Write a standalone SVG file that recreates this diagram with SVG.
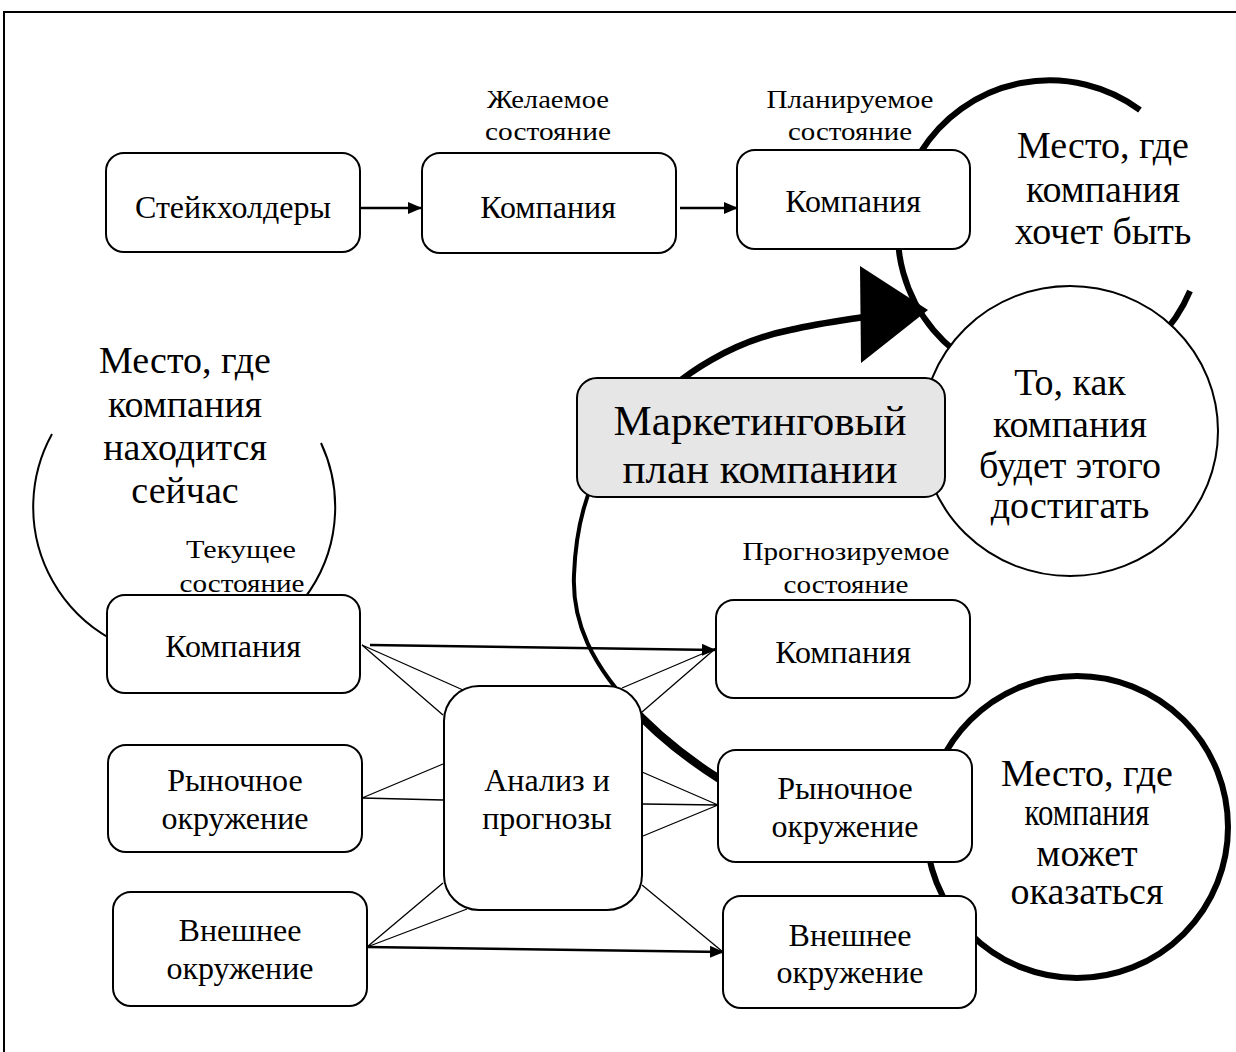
<svg xmlns="http://www.w3.org/2000/svg" width="1236" height="1052" viewBox="0 0 1236 1052">
<defs>
<style>
text{font-family:"Liberation Serif","Times New Roman",serif;fill:#000;text-anchor:middle}
.box{fill:#fff;stroke:#000;stroke-width:2}
.lbl{font-size:32px}
.sm{font-size:26px}
.big{font-size:38px}
.thin{stroke:#000;stroke-width:1.3;fill:none}
.arr{stroke:#000;stroke-width:2.5;fill:none}
</style>
<marker id="ah" markerWidth="14" markerHeight="12" refX="13" refY="6" orient="auto" markerUnits="userSpaceOnUse">
<path d="M0,0 L14,6 L0,12 Z" fill="#000"/>
</marker>
</defs>
<rect width="1236" height="1052" fill="#fff"/>
<rect x="4" y="12" width="1240" height="1050" fill="none" stroke="#000" stroke-width="2"/>

<g id="circle-want">
<path d="M1190 291 A152 152 0 1 1 1140 110" fill="#fff" stroke="#000" stroke-width="6"/>
<text class="big" x="1103" y="158">Место, где</text>
<text class="big" x="1103" y="202">компания</text>
<text class="big" x="1103" y="244">хочет быть</text>
</g>

<g id="circle-now">
<path d="M321 443 A151 151 0 1 1 52 434" fill="none" stroke="#000" stroke-width="2"/>
<text class="big" x="185" y="373">Место, где</text>
<text class="big" x="185" y="417">компания</text>
<text class="big" x="185" y="460">находится</text>
<text class="big" x="185" y="503">сейчас</text>
<text class="sm" x="241" y="558" textLength="110" lengthAdjust="spacingAndGlyphs">Текущее</text>
<text class="sm" x="242" y="592" textLength="125" lengthAdjust="spacingAndGlyphs">состояние</text>
</g>

<g id="circle-may">
<circle cx="1077" cy="827" r="151" fill="#fff" stroke="#000" stroke-width="6"/>
<text class="big" x="1087" y="786">Место, где</text>
<text class="big" x="1087" y="825" textLength="125" lengthAdjust="spacingAndGlyphs">компания</text>
<text class="big" x="1087" y="866">может</text>
<text class="big" x="1087" y="904">оказаться</text>
</g>

<g id="connectors">
<path d="M625 700 Q665 745 721 780" fill="none" stroke="#000" stroke-width="8"/>
<path d="M640 715 C590 665 572 620 574 575 C576 520 590 480 610 450" fill="none" stroke="#000" stroke-width="4"/>
<path d="M640 420 C680 370 740 340 790 330 C820 323 845 320 870 316" fill="none" stroke="#000" stroke-width="6.5"/>
<polygon points="860,266 861,363 928,310" fill="#000"/>

<line class="arr" x1="360" y1="208" x2="421" y2="208" marker-end="url(#ah)"/>
<line class="arr" x1="680" y1="208" x2="737" y2="208" marker-end="url(#ah)"/>
<line class="arr" x1="370" y1="645" x2="715" y2="650" marker-end="url(#ah)"/>
<line class="arr" x1="367" y1="947" x2="723" y2="952" marker-end="url(#ah)"/>

<path class="thin" d="M362 645 L443 715 M362 645 L463 690"/>
<path class="thin" d="M362 798 L443 764 M362 798 L443 800"/>
<path class="thin" d="M367 947 L443 883 M367 947 L467 909"/>
<path class="thin" d="M716 648 L622 688 M716 648 L642 712"/>
<path class="thin" d="M718 805 L642 772 M718 805 L643 804 M718 805 L643 836"/>
<path class="thin" d="M723 952 L642 885"/>
</g>

<g id="circle-how">
<ellipse cx="1070" cy="431" rx="148" ry="145" fill="#fff" stroke="#000" stroke-width="2"/>
<text class="big" x="1070" y="395">То, как</text>
<text class="big" x="1070" y="437">компания</text>
<text class="big" x="1070" y="478">будет этого</text>
<text class="big" x="1070" y="518">достигать</text>
</g>

<g id="node-stakeholders">
<rect class="box" x="106" y="153" width="254" height="99" rx="18"/>
<text class="lbl" x="233" y="218">Стейкхолдеры</text>
</g>
<g id="node-desired">
<text class="sm" x="548" y="108" textLength="122" lengthAdjust="spacingAndGlyphs">Желаемое</text>
<text class="sm" x="548" y="140" textLength="126" lengthAdjust="spacingAndGlyphs">состояние</text>
<rect class="box" x="422" y="153" width="254" height="100" rx="18"/>
<text class="lbl" x="548" y="218">Компания</text>
</g>
<g id="node-planned">
<text class="sm" x="850" y="108" textLength="167" lengthAdjust="spacingAndGlyphs">Планируемое</text>
<text class="sm" x="850" y="140" textLength="124" lengthAdjust="spacingAndGlyphs">состояние</text>
<rect class="box" x="737" y="150" width="233" height="99" rx="18"/>
<text class="lbl" x="853" y="212">Компания</text>
</g>

<g id="node-plan">
<rect x="577" y="378" width="368" height="119" rx="20" fill="#e6e6e6" stroke="#000" stroke-width="2"/>
<text x="760" y="435" style="font-size:43px">Маркетинговый</text>
<text x="760" y="483" style="font-size:43px">план компании</text>
</g>

<g id="node-company-now">
<rect class="box" x="107" y="595" width="253" height="98" rx="18"/>
<text class="lbl" x="233" y="657">Компания</text>
</g>
<g id="node-market-now">
<rect class="box" x="108" y="745" width="254" height="107" rx="18"/>
<text class="lbl" x="235" y="791">Рыночное</text>
<text class="lbl" x="235" y="829">окружение</text>
</g>
<g id="node-external-now">
<rect class="box" x="113" y="892" width="254" height="114" rx="18"/>
<text class="lbl" x="240" y="941">Внешнее</text>
<text class="lbl" x="240" y="979">окружение</text>
</g>

<g id="node-analysis">
<rect class="box" x="444" y="686" width="198" height="224" rx="35"/>
<text class="lbl" x="547" y="791">Анализ и</text>
<text class="lbl" x="547" y="829">прогнозы</text>
</g>

<g id="node-company-forecast">
<text class="sm" x="846" y="560" textLength="207" lengthAdjust="spacingAndGlyphs">Прогнозируемое</text>
<text class="sm" x="846" y="593" textLength="125" lengthAdjust="spacingAndGlyphs">состояние</text>
<rect class="box" x="716" y="600" width="254" height="98" rx="18"/>
<text class="lbl" x="843" y="663">Компания</text>
</g>
<g id="node-market-forecast">
<rect class="box" x="718" y="750" width="254" height="112" rx="18"/>
<text class="lbl" x="845" y="799">Рыночное</text>
<text class="lbl" x="845" y="837">окружение</text>
</g>
<g id="node-external-forecast">
<rect class="box" x="723" y="896" width="253" height="112" rx="18"/>
<text class="lbl" x="850" y="946">Внешнее</text>
<text class="lbl" x="850" y="983">окружение</text>
</g>
</svg>
